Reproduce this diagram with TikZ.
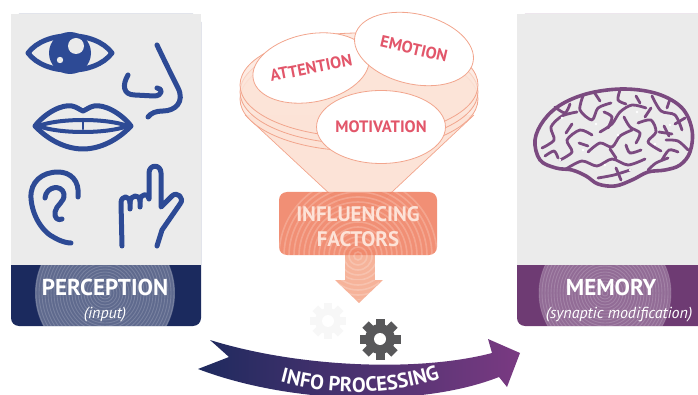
\documentclass[tikz,border=0pt]{standalone}
\usepackage{fontspec}
\setmainfont{PT Sans}
\usetikzlibrary{shapes.geometric,decorations.text}

\definecolor{panelgray}{HTML}{EBEBEB}
\definecolor{navyband}{HTML}{1B2A5E}
\definecolor{plumband}{HTML}{6E3B73}
\definecolor{iconblue}{HTML}{2D4A95}
\definecolor{brainplum}{HTML}{7B4A80}
\definecolor{salmonbox}{HTML}{F0876A}
\definecolor{salmonarrow}{HTML}{F6B39A}
\definecolor{peach}{HTML}{FCE3D7}
\definecolor{peachline}{HTML}{F2A58D}
\definecolor{factorred}{HTML}{E2566A}
\definecolor{paletext}{HTML}{FDE3D8}
\definecolor{gearc}{HTML}{58585A}
\definecolor{ribbonleft}{HTML}{1E2A5E}
\definecolor{ribbonright}{HTML}{7A3A82}

\newcommand\bandfont{\fontsize{23}{26}\selectfont\bfseries}
\newcommand\subfont{\fontsize{16}{18}\selectfont\itshape}
\newcommand\factorfont{\fontsize{16.5}{18}\selectfont\bfseries}
\newcommand\boxfont{\fontsize{21}{25}\selectfont\bfseries}
\newcommand\ribbonfont{\fontsize{20.5}{20.5}\selectfont\bfseries}

\tikzset{
  icon/.style={draw=iconblue, line width=5pt, line cap=round, line join=round},
  brainline/.style={draw=brainplum, line width=2.8pt, line cap=round, line join=round},
  disc/.style={fill=peach, fill opacity=0.7, draw=peachline, line width=0.8pt},
  factor/.style={ellipse, draw=peachline, line width=0.8pt, fill=white, inner sep=0pt,
                 text=factorred, font=\factorfont},
  bandtitle/.style={text=white, font=\bandfont, anchor=base, inner sep=0pt},
  bandsub/.style={text=white, font=\subfont, anchor=base, inner sep=0pt},
  ring/.style={draw=white, line width=0.9pt, opacity=0.16},
}

\begin{document}
\begin{tikzpicture}[x=1pt,y=-1pt]
\useasboundingbox (0,0) rectangle (698,395);

% ---------- left panel: perception ----------
\fill[navyband, rounded corners=8pt] (11,14) rectangle (201,326);
\fill[panelgray] (11,14) rectangle (201,265);
\begin{scope}
  \clip[rounded corners=8pt] (11,14) rectangle (201,326);
  \clip (0,265) rectangle (698,395);
  \fill[white, opacity=0.3] (105,293) circle (70);
  \foreach \r in {3,6,...,69} \draw[ring] (105,293) circle (\r);
\end{scope}
\node[bandtitle] (perc) at (105,295) {PERCEPTION};
\node[bandsub] (percsub) at (105,318) {(input)};

% eye
\draw[icon] (28,53) .. controls (45,30) and (95,30) .. (112,53)
            .. controls (95,76) and (45,76) .. (28,53) -- cycle;
\fill[iconblue] (70,53) circle (21);
\fill[panelgray] (76,46) circle (8);
\fill[panelgray] (60,60) circle (3.2);

% nose
\draw[icon] (157,45) .. controls (165,62) and (172,76) .. (178,88)
            .. controls (185,102) and (175,111) .. (163,111)
            .. controls (156,111) and (151,113) .. (148,117);
\draw[icon] (128,75) .. controls (122,85) and (123,95) .. (135,95)
            -- (154,96) .. controls (163,96) and (163,88) .. (157,88);

% lips
\draw[icon] (35,126) .. controls (45,113) and (62,104) .. (72,106)
            .. controls (77,107) and (80,110) .. (83,111)
            .. controls (86,110) and (89,107) .. (94,106)
            .. controls (104,104) and (121,113) .. (131,126)
            .. controls (118,140) and (100,149) .. (83,149)
            .. controls (66,149) and (48,140) .. (35,126) -- cycle;
\draw[icon, line width=4pt] (38,126) .. controls (60,118) and (106,118) .. (128,126)
            .. controls (106,134) and (60,134) .. (38,126) -- cycle;
\draw[icon, line width=2.5pt] (83,122) -- (83,129);

% ear
\draw[icon] (78,197) .. controls (80,180) and (70,172) .. (58,172)
            .. controls (42,172) and (30,182) .. (31,198)
            .. controls (32,215) and (42,232) .. (55,238)
            .. controls (62,242) and (68,243) .. (71,243);
\draw[icon] (45,198) .. controls (46,186) and (62,184) .. (64,194)
            .. controls (65,202) and (56,205) .. (55,212)
            .. controls (54,218) and (58,221) .. (62,219);

% pointing hand
\draw[icon] (122,246) -- (121,203) .. controls (121,195) and (130,195) .. (130,203) -- (130,209);
\draw[icon] (130,203) .. controls (130,194) and (140,194) .. (140,201) -- (140,207);
\draw[icon] (140,201) .. controls (140,193) and (149,193) .. (149,199)
            -- (149,173) .. controls (149,164) and (161,164) .. (161,173)
            -- (161,207) -- (172,196) .. controls (177,191) and (185,198) .. (180,204)
            -- (162,230) -- (157,246);

% ---------- right panel: memory ----------
\fill[plumband, rounded corners=8pt] (517,14) rectangle (710,326);
\fill[panelgray] (517,14) rectangle (698,265);
\begin{scope}
  \clip[rounded corners=8pt] (517,14) rectangle (710,326);
  \clip (0,265) rectangle (698,395);
  \fill[white, opacity=0.25] (605,293) circle (66);
  \foreach \r in {3,6,...,66} \draw[ring] (605,293) circle (\r);
\end{scope}
\node[bandtitle] (mem) at (611,295) {MEMORY};
\node[bandsub] (memsub) at (619,318) {(synaptic modification)};

% brain: outline and folds
\draw[brainline, line width=3.6pt] plot[smooth cycle, tension=0.6] coordinates
  {(540,160) (535,140) (544,120) (562,104) (590,93) (625,89) (658,94) (682,108)
   (692,130) (690,152) (680,165) (665,170) (648,172) (632,180) (615,186) (598,184)
   (586,176) (572,170) (556,168)};
\draw[brainline] plot[smooth] coordinates {(542,148) (554,140) (551,127) (562,116) (577,112)};
\draw[brainline] plot[smooth] coordinates {(560,160) (572,152) (567,140) (580,130) (592,135)};
\draw[brainline] plot[smooth] coordinates {(583,96) (580,110) (592,120) (598,108) (611,103)};
\draw[brainline] plot[smooth] coordinates {(600,132) (612,124) (620,112) (632,105) (646,108)};
\draw[brainline] plot[smooth] coordinates {(588,152) (600,143) (612,147) (620,136) (632,130)};
\draw[brainline] plot[smooth] coordinates {(638,123) (651,120) (656,132) (648,142) (661,151)};
\draw[brainline] plot[smooth] coordinates {(652,96) (661,111) (675,115) (682,130)};
\draw[brainline] plot[smooth] coordinates {(666,140) (678,141) (688,150)};
\draw[brainline] plot[smooth] coordinates {(566,169) (582,161) (597,166) (612,159) (628,165) (645,159)};
\draw[brainline] plot[smooth] coordinates {(598,178) (614,175) (630,170)};
\draw[brainline] plot[smooth] coordinates {(641,150) (630,153) (626,145)};
\draw[brainline] plot[smooth] coordinates {(668,158) (656,163) (648,170)};
\draw[brainline] plot[smooth] coordinates {(620,90) (618,100) (626,104)};
\draw[brainline] plot[smooth] coordinates {(664,126) (669,136)};
\draw[brainline] plot[smooth] coordinates {(572,124) (566,133)};
\draw[brainline] plot[smooth] coordinates {(555,107) (565,113) (570,104)};
\draw[brainline] plot[smooth] coordinates {(545,156) (554,151) (558,158)};
\draw[brainline] plot[smooth] coordinates {(604,112) (612,117) (608,128)};
\draw[brainline] plot[smooth] coordinates {(624,117) (630,127) (640,133) (636,143)};
\draw[brainline] plot[smooth] coordinates {(670,99) (667,108)};
\draw[brainline] plot[smooth] coordinates {(685,118) (675,124)};
\draw[brainline] plot[smooth] coordinates {(678,152) (669,150) (662,160)};
\draw[brainline] plot[smooth] coordinates {(594,92) (600,101)};
\draw[brainline] plot[smooth] coordinates {(610,149) (616,158)};
\draw[brainline] plot[smooth] coordinates {(651,108) (645,117)};
\draw[brainline] plot[smooth] coordinates {(659,132) (672,134)};
\draw[brainline] plot[smooth] coordinates {(616,168) (621,180)};
\draw[brainline] plot[smooth] coordinates {(579,143) (588,146)};
\draw[brainline] plot[smooth] coordinates {(636,96) (640,103)};
\foreach \p in {(562,118),(618,135),(637,112),(655,144),(583,150),(605,165),(670,125),(630,170),(560,160),(596,124)}
  \fill[white] \p circle (1.4);

% ---------- influencing factors funnel ----------
\fill[peach] (245,115) -- (360,222) -- (474,115) -- cycle;
\draw[peachline, line width=0.7pt] (245,115) -- (360,222) -- (474,115);
\draw[disc] (359,99) ellipse [x radius=119, y radius=52];
\draw[disc] (359,92) ellipse [x radius=119, y radius=52];
\draw[disc] (359,85) ellipse [x radius=119, y radius=52];

\node[factor, minimum width=114pt, minimum height=68pt, rotate=11] (att) at (311,68) {ATTENTION};
\node[factor, minimum width=121pt, minimum height=70pt, rotate=-13] (emo) at (414,49) {EMOTION};
\node[factor, minimum width=114pt, minimum height=73pt] (mot) at (381,127) {MOTIVATION};

% box and downward arrow with ripple rings
\fill[salmonarrow] (345,250) rectangle (375,281);
\fill[salmonarrow] (335,280) -- (383,280) -- (359,303) -- cycle;
\fill[salmonbox, opacity=0.93, rounded corners=8pt] (279,192) rectangle (437,255);
\begin{scope}
  \clip[rounded corners=8pt] (279,192) rectangle (437,255)
        (345,250) rectangle (375,281) (335,280) -- (383,280) -- (359,303) -- cycle;
  \foreach \r in {4,9,...,80} \draw[white, line width=1.6pt, opacity=0.2] (358,256) circle (\r);
\end{scope}
\node[text=paletext, font=\boxfont, align=center, inner sep=0pt] (infl) at (358,227)
  {INFLUENCING\\FACTORS};

% ---------- info processing ribbon ----------
\shade[left color=ribbonleft, right color=ribbonright]
  (210,340) .. controls (300,368) and (420,372) .. (492,353)
  -- (488,339) -- (520,353) -- (507,387) -- (499,377)
  .. controls (420,408) and (290,404) .. (198,369)
  -- (229,357) -- cycle;
\path[decorate, decoration={text along path, text align=center, text color=white,
      text={|\ribbonfont|INFO PROCESSING}}]
  (270,379) .. controls (330,397) and (392,397) .. (450,375);

% gears: a faint one and a solid one
\coordinate (ghost) at (328,321);
\foreach \a in {0,45,90,135}
  \fill[black!3, rotate around={\a:(ghost)}] (324,303) rectangle (332,339);
\fill[black!3] (ghost) circle (13);
\fill[white] (ghost) circle (6);

\coordinate (gear) at (380,339);
\foreach \a in {0,45,90,135}
  \fill[gearc, rotate around={\a:(gear)}] (375.5,318.5) rectangle (384.5,359.5);
\fill[gearc] (gear) circle (15);
\fill[white] (gear) circle (6);

\end{tikzpicture}
\end{document}
